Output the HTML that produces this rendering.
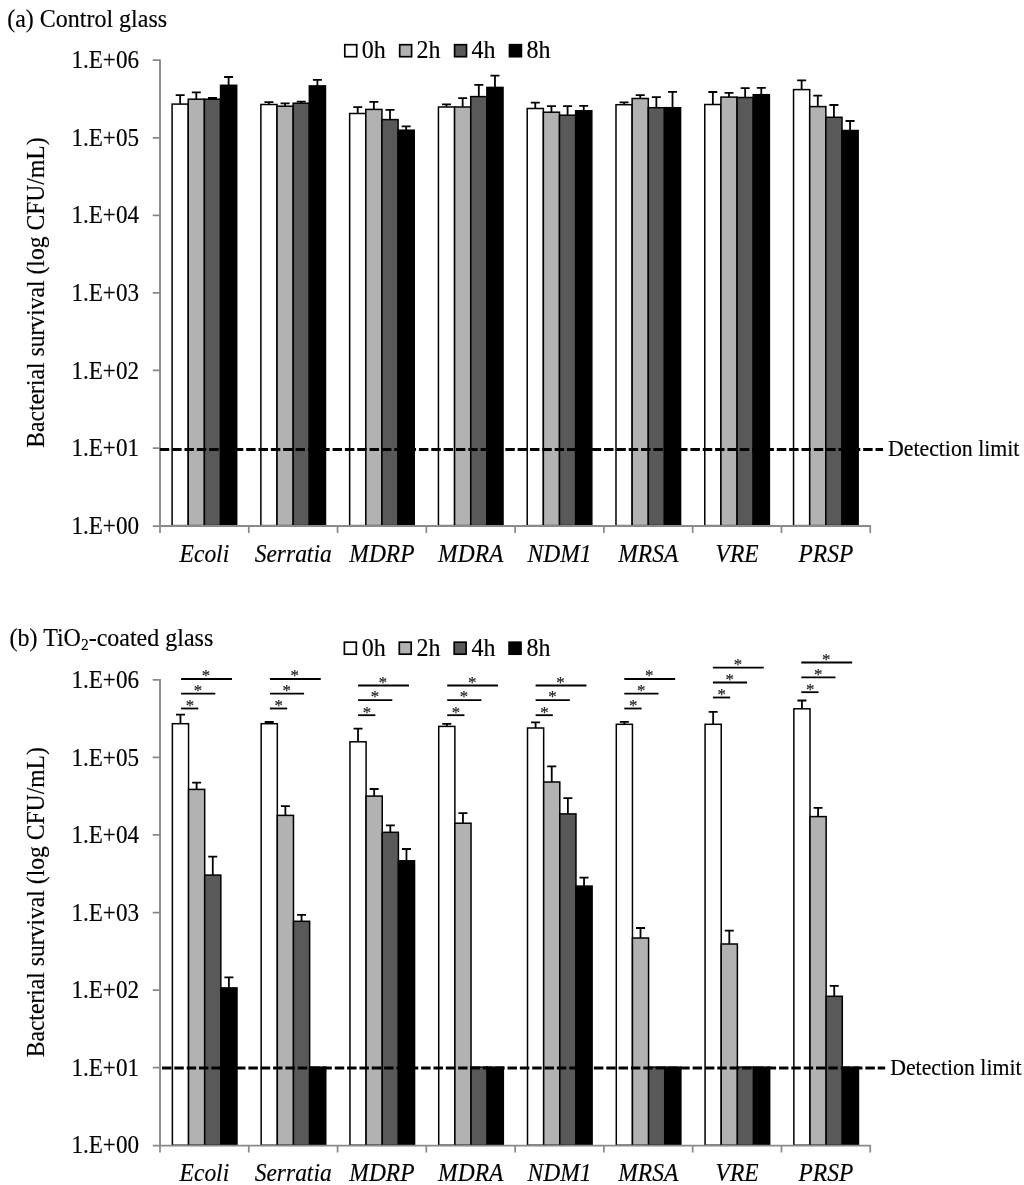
<!DOCTYPE html>
<html lang="en">
<head>
<meta charset="utf-8">
<title>Bacterial survival on control glass and TiO2-coated glass</title>
<style>
html,body{margin:0;padding:0;background:#fff;}
body{width:1024px;height:1185px;overflow:hidden;font-family:"Liberation Serif","Times New Roman",serif;}
svg{display:block;}
</style>
</head>
<body>
<svg width="1024" height="1185" viewBox="0 0 1024 1185" font-family="'Liberation Serif', 'Times New Roman', serif" fill="#000">
<style>text{stroke:#000;stroke-width:0.15px;stroke-linejoin:round}</style>
<rect width="1024" height="1185" fill="#fff"/>
<g>
<text transform="translate(7.2 26.8) scale(1 1.05)" font-size="24">(a) Control glass</text>
<rect x="172.09" y="104.1" width="16.15" height="421.52" fill="#ffffff" stroke="#000" stroke-width="1.5"/>
<path d="M180.16 104.1V95.2M175.66 95.2H184.66" stroke="#000" stroke-width="1.8" fill="none"/>
<rect x="188.24" y="99.2" width="16.15" height="426.42" fill="#b2b2b2" stroke="#000" stroke-width="1.5"/>
<path d="M196.31 99.2V92.3M191.81 92.3H200.81" stroke="#000" stroke-width="1.8" fill="none"/>
<rect x="204.39" y="99.2" width="16.15" height="426.42" fill="#595959" stroke="#000" stroke-width="1.5"/>
<path d="M212.46 99.2V98M207.96 98H216.96" stroke="#000" stroke-width="1.8" fill="none"/>
<rect x="220.54" y="85.3" width="16.15" height="440.32" fill="#000000" stroke="#000" stroke-width="1.5"/>
<path d="M228.61 85.3V77M224.11 77H233.11" stroke="#000" stroke-width="1.8" fill="none"/>
<rect x="260.87" y="104.5" width="16.15" height="421.12" fill="#ffffff" stroke="#000" stroke-width="1.5"/>
<path d="M268.94 104.5V102.2M264.44 102.2H273.44" stroke="#000" stroke-width="1.8" fill="none"/>
<rect x="277.02" y="106.2" width="16.15" height="419.42" fill="#b2b2b2" stroke="#000" stroke-width="1.5"/>
<path d="M285.09 106.2V103.4M280.59 103.4H289.59" stroke="#000" stroke-width="1.8" fill="none"/>
<rect x="293.17" y="103.2" width="16.15" height="422.42" fill="#595959" stroke="#000" stroke-width="1.5"/>
<path d="M301.25 103.2V101.7M296.75 101.7H305.75" stroke="#000" stroke-width="1.8" fill="none"/>
<rect x="309.32" y="85.9" width="16.15" height="439.72" fill="#000000" stroke="#000" stroke-width="1.5"/>
<path d="M317.39 85.9V79.9M312.89 79.9H321.89" stroke="#000" stroke-width="1.8" fill="none"/>
<rect x="349.65" y="113.5" width="16.15" height="412.12" fill="#ffffff" stroke="#000" stroke-width="1.5"/>
<path d="M357.72 113.5V107.1M353.22 107.1H362.22" stroke="#000" stroke-width="1.8" fill="none"/>
<rect x="365.8" y="109.4" width="16.15" height="416.22" fill="#b2b2b2" stroke="#000" stroke-width="1.5"/>
<path d="M373.87 109.4V101.8M369.37 101.8H378.37" stroke="#000" stroke-width="1.8" fill="none"/>
<rect x="381.95" y="119.6" width="16.15" height="406.02" fill="#595959" stroke="#000" stroke-width="1.5"/>
<path d="M390.02 119.6V109.9M385.52 109.9H394.52" stroke="#000" stroke-width="1.8" fill="none"/>
<rect x="398.1" y="130.2" width="16.15" height="395.42" fill="#000000" stroke="#000" stroke-width="1.5"/>
<path d="M406.17 130.2V126.3M401.67 126.3H410.67" stroke="#000" stroke-width="1.8" fill="none"/>
<rect x="438.43" y="107" width="16.15" height="418.62" fill="#ffffff" stroke="#000" stroke-width="1.5"/>
<path d="M446.51 107V104.3M442.01 104.3H451.01" stroke="#000" stroke-width="1.8" fill="none"/>
<rect x="454.58" y="107" width="16.15" height="418.62" fill="#b2b2b2" stroke="#000" stroke-width="1.5"/>
<path d="M462.66 107V98.1M458.16 98.1H467.16" stroke="#000" stroke-width="1.8" fill="none"/>
<rect x="470.73" y="96.6" width="16.15" height="429.02" fill="#595959" stroke="#000" stroke-width="1.5"/>
<path d="M478.81 96.6V84.8M474.31 84.8H483.31" stroke="#000" stroke-width="1.8" fill="none"/>
<rect x="486.88" y="87.4" width="16.15" height="438.22" fill="#000000" stroke="#000" stroke-width="1.5"/>
<path d="M494.96 87.4V75.6M490.46 75.6H499.46" stroke="#000" stroke-width="1.8" fill="none"/>
<rect x="527.21" y="108.5" width="16.15" height="417.12" fill="#ffffff" stroke="#000" stroke-width="1.5"/>
<path d="M535.29 108.5V102.7M530.79 102.7H539.79" stroke="#000" stroke-width="1.8" fill="none"/>
<rect x="543.36" y="112.2" width="16.15" height="413.42" fill="#b2b2b2" stroke="#000" stroke-width="1.5"/>
<path d="M551.44 112.2V106.2M546.94 106.2H555.94" stroke="#000" stroke-width="1.8" fill="none"/>
<rect x="559.51" y="115.2" width="16.15" height="410.42" fill="#595959" stroke="#000" stroke-width="1.5"/>
<path d="M567.59 115.2V106.2M563.09 106.2H572.09" stroke="#000" stroke-width="1.8" fill="none"/>
<rect x="575.66" y="110.8" width="16.15" height="414.82" fill="#000000" stroke="#000" stroke-width="1.5"/>
<path d="M583.74 110.8V105.9M579.24 105.9H588.24" stroke="#000" stroke-width="1.8" fill="none"/>
<rect x="615.99" y="104.7" width="16.15" height="420.92" fill="#ffffff" stroke="#000" stroke-width="1.5"/>
<path d="M624.07 104.7V102.4M619.57 102.4H628.57" stroke="#000" stroke-width="1.8" fill="none"/>
<rect x="632.14" y="98.5" width="16.15" height="427.12" fill="#b2b2b2" stroke="#000" stroke-width="1.5"/>
<path d="M640.22 98.5V95.2M635.72 95.2H644.72" stroke="#000" stroke-width="1.8" fill="none"/>
<rect x="648.29" y="107.7" width="16.15" height="417.92" fill="#595959" stroke="#000" stroke-width="1.5"/>
<path d="M656.37 107.7V97.1M651.87 97.1H660.87" stroke="#000" stroke-width="1.8" fill="none"/>
<rect x="664.44" y="107.7" width="16.15" height="417.92" fill="#000000" stroke="#000" stroke-width="1.5"/>
<path d="M672.52 107.7V91.8M668.02 91.8H677.02" stroke="#000" stroke-width="1.8" fill="none"/>
<rect x="704.77" y="104.5" width="16.15" height="421.12" fill="#ffffff" stroke="#000" stroke-width="1.5"/>
<path d="M712.85 104.5V92M708.35 92H717.35" stroke="#000" stroke-width="1.8" fill="none"/>
<rect x="720.92" y="97.1" width="16.15" height="428.52" fill="#b2b2b2" stroke="#000" stroke-width="1.5"/>
<path d="M729 97.1V92.9M724.5 92.9H733.5" stroke="#000" stroke-width="1.8" fill="none"/>
<rect x="737.07" y="97.5" width="16.15" height="428.12" fill="#595959" stroke="#000" stroke-width="1.5"/>
<path d="M745.15 97.5V88.1M740.65 88.1H749.65" stroke="#000" stroke-width="1.8" fill="none"/>
<rect x="753.22" y="94.7" width="16.15" height="430.92" fill="#000000" stroke="#000" stroke-width="1.5"/>
<path d="M761.3 94.7V87.9M756.8 87.9H765.8" stroke="#000" stroke-width="1.8" fill="none"/>
<rect x="793.55" y="89.6" width="16.15" height="436.02" fill="#ffffff" stroke="#000" stroke-width="1.5"/>
<path d="M801.63 89.6V80.4M797.13 80.4H806.13" stroke="#000" stroke-width="1.8" fill="none"/>
<rect x="809.7" y="106.6" width="16.15" height="419.02" fill="#b2b2b2" stroke="#000" stroke-width="1.5"/>
<path d="M817.78 106.6V95.7M813.28 95.7H822.28" stroke="#000" stroke-width="1.8" fill="none"/>
<rect x="825.85" y="117.3" width="16.15" height="408.32" fill="#595959" stroke="#000" stroke-width="1.5"/>
<path d="M833.93 117.3V105M829.43 105H838.43" stroke="#000" stroke-width="1.8" fill="none"/>
<rect x="842" y="130.5" width="16.15" height="395.12" fill="#000000" stroke="#000" stroke-width="1.5"/>
<path d="M850.08 130.5V121M845.58 121H854.58" stroke="#000" stroke-width="1.8" fill="none"/>
<path d="M160 59.4V526.02H870.8" stroke="#8a8a8a" stroke-width="1.9" fill="none"/>
<path d="M152.7 60.2H160M152.7 137.77H160M152.7 215.34H160M152.7 292.91H160M152.7 370.48H160M152.7 448.05H160M152.7 526.02H160M160 525.62V532.92M248.78 525.62V532.92M337.56 525.62V532.92M426.34 525.62V532.92M515.12 525.62V532.92M603.9 525.62V532.92M692.68 525.62V532.92M781.46 525.62V532.92M870.24 525.62V532.92" stroke="#8a8a8a" stroke-width="1.75" fill="none"/>
<path d="M159.8 449.45H883" stroke="#000" stroke-width="3.1" stroke-dasharray="9.45 2.89" fill="none"/>
<text transform="translate(888 456.05) scale(1 1.04)" font-size="21.8">Detection limit</text>
<text transform="translate(139 68.3) scale(1 1.113)" font-size="23.1" text-anchor="end">1.E+06</text>
<text transform="translate(139 145.87) scale(1 1.113)" font-size="23.1" text-anchor="end">1.E+05</text>
<text transform="translate(139 223.44) scale(1 1.113)" font-size="23.1" text-anchor="end">1.E+04</text>
<text transform="translate(139 301.01) scale(1 1.113)" font-size="23.1" text-anchor="end">1.E+03</text>
<text transform="translate(139 378.58) scale(1 1.113)" font-size="23.1" text-anchor="end">1.E+02</text>
<text transform="translate(139 456.15) scale(1 1.113)" font-size="23.1" text-anchor="end">1.E+01</text>
<text transform="translate(139 533.72) scale(1 1.113)" font-size="23.1" text-anchor="end">1.E+00</text>
<text transform="translate(204.39 561.62) scale(1 1.115)" font-size="23.5" text-anchor="middle" font-style="italic">Ecoli</text>
<text transform="translate(293.17 561.62) scale(1 1.115)" font-size="23.5" text-anchor="middle" font-style="italic">Serratia</text>
<text transform="translate(381.95 561.62) scale(1 1.115)" font-size="23.5" text-anchor="middle" font-style="italic">MDRP</text>
<text transform="translate(470.73 561.62) scale(1 1.115)" font-size="23.5" text-anchor="middle" font-style="italic">MDRA</text>
<text transform="translate(559.51 561.62) scale(1 1.115)" font-size="23.5" text-anchor="middle" font-style="italic">NDM1</text>
<text transform="translate(648.29 561.62) scale(1 1.115)" font-size="23.5" text-anchor="middle" font-style="italic">MRSA</text>
<text transform="translate(737.07 561.62) scale(1 1.115)" font-size="23.5" text-anchor="middle" font-style="italic">VRE</text>
<text transform="translate(825.85 561.62) scale(1 1.115)" font-size="23.5" text-anchor="middle" font-style="italic">PRSP</text>
<text transform="translate(43.7 292.55) rotate(-90) scale(1 1.057)" font-size="23.63" text-anchor="middle">Bacterial survival (log CFU/mL)</text>
<rect x="344.8" y="44.7" width="11.9" height="12" fill="#ffffff" stroke="#000" stroke-width="1.7"/>
<text transform="translate(361.7 58.3) scale(1 1.09)" font-size="24">0h</text>
<rect x="399.7" y="44.7" width="11.9" height="12" fill="#b2b2b2" stroke="#000" stroke-width="1.7"/>
<text transform="translate(416.6 58.3) scale(1 1.09)" font-size="24">2h</text>
<rect x="454.6" y="44.7" width="11.9" height="12" fill="#595959" stroke="#000" stroke-width="1.7"/>
<text transform="translate(471.5 58.3) scale(1 1.09)" font-size="24">4h</text>
<rect x="509.5" y="44.7" width="11.9" height="12" fill="#000000" stroke="#000" stroke-width="1.7"/>
<text transform="translate(526.4 58.3) scale(1 1.09)" font-size="24">8h</text>
</g>
<g>
<text transform="translate(9.6 646.3) scale(1 1.05)" font-size="24">(b) TiO<tspan font-size="15.5" dy="3.4">2</tspan><tspan dy="-3.4">-coated glass</tspan></text>
<rect x="172.39" y="723.7" width="16.15" height="421.57" fill="#ffffff" stroke="#000" stroke-width="1.5"/>
<path d="M180.47 723.7V714.7M175.97 714.7H184.97" stroke="#000" stroke-width="1.8" fill="none"/>
<rect x="188.54" y="789.4" width="16.15" height="355.87" fill="#b2b2b2" stroke="#000" stroke-width="1.5"/>
<path d="M196.62 789.4V782.6M192.12 782.6H201.12" stroke="#000" stroke-width="1.8" fill="none"/>
<rect x="204.69" y="875.1" width="16.15" height="270.17" fill="#595959" stroke="#000" stroke-width="1.5"/>
<path d="M212.76 875.1V856.7M208.26 856.7H217.26" stroke="#000" stroke-width="1.8" fill="none"/>
<rect x="220.84" y="987.9" width="16.15" height="157.37" fill="#000000" stroke="#000" stroke-width="1.5"/>
<path d="M228.91 987.9V977.4M224.41 977.4H233.41" stroke="#000" stroke-width="1.8" fill="none"/>
<rect x="261.17" y="723.7" width="16.15" height="421.57" fill="#ffffff" stroke="#000" stroke-width="1.5"/>
<path d="M269.25 723.7V722M264.75 722H273.75" stroke="#000" stroke-width="1.8" fill="none"/>
<rect x="277.32" y="815.4" width="16.15" height="329.87" fill="#b2b2b2" stroke="#000" stroke-width="1.5"/>
<path d="M285.39 815.4V806.1M280.89 806.1H289.89" stroke="#000" stroke-width="1.8" fill="none"/>
<rect x="293.47" y="921.3" width="16.15" height="223.97" fill="#595959" stroke="#000" stroke-width="1.5"/>
<path d="M301.55 921.3V914.8M297.05 914.8H306.05" stroke="#000" stroke-width="1.8" fill="none"/>
<rect x="309.62" y="1067.15" width="16.15" height="78.12" fill="#000000" stroke="#000" stroke-width="1.5"/>
<rect x="349.95" y="741.8" width="16.15" height="403.47" fill="#ffffff" stroke="#000" stroke-width="1.5"/>
<path d="M358.02 741.8V728.7M353.52 728.7H362.52" stroke="#000" stroke-width="1.8" fill="none"/>
<rect x="366.1" y="796.1" width="16.15" height="349.17" fill="#b2b2b2" stroke="#000" stroke-width="1.5"/>
<path d="M374.17 796.1V789M369.67 789H378.67" stroke="#000" stroke-width="1.8" fill="none"/>
<rect x="382.25" y="832.3" width="16.15" height="312.97" fill="#595959" stroke="#000" stroke-width="1.5"/>
<path d="M390.32 832.3V825.3M385.82 825.3H394.82" stroke="#000" stroke-width="1.8" fill="none"/>
<rect x="398.4" y="860.8" width="16.15" height="284.47" fill="#000000" stroke="#000" stroke-width="1.5"/>
<path d="M406.47 860.8V849M401.97 849H410.97" stroke="#000" stroke-width="1.8" fill="none"/>
<rect x="438.73" y="726.4" width="16.15" height="418.87" fill="#ffffff" stroke="#000" stroke-width="1.5"/>
<path d="M446.81 726.4V723.9M442.31 723.9H451.31" stroke="#000" stroke-width="1.8" fill="none"/>
<rect x="454.88" y="823.2" width="16.15" height="322.07" fill="#b2b2b2" stroke="#000" stroke-width="1.5"/>
<path d="M462.96 823.2V813.2M458.46 813.2H467.46" stroke="#000" stroke-width="1.8" fill="none"/>
<rect x="471.03" y="1067.15" width="16.15" height="78.12" fill="#595959" stroke="#000" stroke-width="1.5"/>
<rect x="487.18" y="1067.15" width="16.15" height="78.12" fill="#000000" stroke="#000" stroke-width="1.5"/>
<rect x="527.51" y="728" width="16.15" height="417.27" fill="#ffffff" stroke="#000" stroke-width="1.5"/>
<path d="M535.59 728V722.3M531.09 722.3H540.09" stroke="#000" stroke-width="1.8" fill="none"/>
<rect x="543.66" y="782" width="16.15" height="363.27" fill="#b2b2b2" stroke="#000" stroke-width="1.5"/>
<path d="M551.74 782V766.3M547.24 766.3H556.24" stroke="#000" stroke-width="1.8" fill="none"/>
<rect x="559.81" y="813.9" width="16.15" height="331.37" fill="#595959" stroke="#000" stroke-width="1.5"/>
<path d="M567.88 813.9V798.2M563.38 798.2H572.38" stroke="#000" stroke-width="1.8" fill="none"/>
<rect x="575.96" y="886.1" width="16.15" height="259.17" fill="#000000" stroke="#000" stroke-width="1.5"/>
<path d="M584.04 886.1V877.7M579.54 877.7H588.54" stroke="#000" stroke-width="1.8" fill="none"/>
<rect x="616.29" y="724.3" width="16.15" height="420.97" fill="#ffffff" stroke="#000" stroke-width="1.5"/>
<path d="M624.37 724.3V721.8M619.87 721.8H628.87" stroke="#000" stroke-width="1.8" fill="none"/>
<rect x="632.44" y="938" width="16.15" height="207.27" fill="#b2b2b2" stroke="#000" stroke-width="1.5"/>
<path d="M640.51 938V928M636.01 928H645.01" stroke="#000" stroke-width="1.8" fill="none"/>
<rect x="648.59" y="1067.15" width="16.15" height="78.12" fill="#595959" stroke="#000" stroke-width="1.5"/>
<rect x="664.74" y="1067.15" width="16.15" height="78.12" fill="#000000" stroke="#000" stroke-width="1.5"/>
<rect x="705.07" y="724.3" width="16.15" height="420.97" fill="#ffffff" stroke="#000" stroke-width="1.5"/>
<path d="M713.15 724.3V711.8M708.65 711.8H717.65" stroke="#000" stroke-width="1.8" fill="none"/>
<rect x="721.22" y="944" width="16.15" height="201.27" fill="#b2b2b2" stroke="#000" stroke-width="1.5"/>
<path d="M729.3 944V930.7M724.8 930.7H733.8" stroke="#000" stroke-width="1.8" fill="none"/>
<rect x="737.37" y="1067.15" width="16.15" height="78.12" fill="#595959" stroke="#000" stroke-width="1.5"/>
<rect x="753.52" y="1067.15" width="16.15" height="78.12" fill="#000000" stroke="#000" stroke-width="1.5"/>
<rect x="793.85" y="708.8" width="16.15" height="436.47" fill="#ffffff" stroke="#000" stroke-width="1.5"/>
<path d="M801.93 708.8V700.5M797.43 700.5H806.43" stroke="#000" stroke-width="1.8" fill="none"/>
<rect x="810" y="816.6" width="16.15" height="328.67" fill="#b2b2b2" stroke="#000" stroke-width="1.5"/>
<path d="M818.08 816.6V807.8M813.58 807.8H822.58" stroke="#000" stroke-width="1.8" fill="none"/>
<rect x="826.15" y="996.3" width="16.15" height="148.97" fill="#595959" stroke="#000" stroke-width="1.5"/>
<path d="M834.23 996.3V985.9M829.73 985.9H838.73" stroke="#000" stroke-width="1.8" fill="none"/>
<rect x="842.3" y="1067.15" width="16.15" height="78.12" fill="#000000" stroke="#000" stroke-width="1.5"/>
<path d="M160 679.05V1145.67H870.8" stroke="#8a8a8a" stroke-width="1.9" fill="none"/>
<path d="M152.7 679.85H160M152.7 757.42H160M152.7 834.99H160M152.7 912.56H160M152.7 990.13H160M152.7 1067.7H160M152.7 1145.67H160M160 1145.27V1152.57M248.78 1145.27V1152.57M337.56 1145.27V1152.57M426.34 1145.27V1152.57M515.12 1145.27V1152.57M603.9 1145.27V1152.57M692.68 1145.27V1152.57M781.46 1145.27V1152.57M870.24 1145.27V1152.57" stroke="#8a8a8a" stroke-width="1.75" fill="none"/>
<path d="M162 1068H885.2" stroke="#000" stroke-width="3.1" stroke-dasharray="9.45 2.89" fill="none"/>
<text transform="translate(890.2 1074.6) scale(1 1.04)" font-size="21.8">Detection limit</text>
<text transform="translate(139 687.95) scale(1 1.113)" font-size="23.1" text-anchor="end">1.E+06</text>
<text transform="translate(139 765.52) scale(1 1.113)" font-size="23.1" text-anchor="end">1.E+05</text>
<text transform="translate(139 843.09) scale(1 1.113)" font-size="23.1" text-anchor="end">1.E+04</text>
<text transform="translate(139 920.66) scale(1 1.113)" font-size="23.1" text-anchor="end">1.E+03</text>
<text transform="translate(139 998.23) scale(1 1.113)" font-size="23.1" text-anchor="end">1.E+02</text>
<text transform="translate(139 1075.8) scale(1 1.113)" font-size="23.1" text-anchor="end">1.E+01</text>
<text transform="translate(139 1153.37) scale(1 1.113)" font-size="23.1" text-anchor="end">1.E+00</text>
<text transform="translate(204.39 1180.77) scale(1 1.115)" font-size="23.5" text-anchor="middle" font-style="italic">Ecoli</text>
<text transform="translate(293.17 1180.77) scale(1 1.115)" font-size="23.5" text-anchor="middle" font-style="italic">Serratia</text>
<text transform="translate(381.95 1180.77) scale(1 1.115)" font-size="23.5" text-anchor="middle" font-style="italic">MDRP</text>
<text transform="translate(470.73 1180.77) scale(1 1.115)" font-size="23.5" text-anchor="middle" font-style="italic">MDRA</text>
<text transform="translate(559.51 1180.77) scale(1 1.115)" font-size="23.5" text-anchor="middle" font-style="italic">NDM1</text>
<text transform="translate(648.29 1180.77) scale(1 1.115)" font-size="23.5" text-anchor="middle" font-style="italic">MRSA</text>
<text transform="translate(737.07 1180.77) scale(1 1.115)" font-size="23.5" text-anchor="middle" font-style="italic">VRE</text>
<text transform="translate(825.85 1180.77) scale(1 1.115)" font-size="23.5" text-anchor="middle" font-style="italic">PRSP</text>
<text transform="translate(43.7 902.25) rotate(-90) scale(1 1.057)" font-size="23.63" text-anchor="middle">Bacterial survival (log CFU/mL)</text>
<rect x="344.4" y="642.2" width="11.9" height="12" fill="#ffffff" stroke="#000" stroke-width="1.7"/>
<text transform="translate(361.7 655.7) scale(1 1.09)" font-size="24">0h</text>
<rect x="399.3" y="642.2" width="11.9" height="12" fill="#b2b2b2" stroke="#000" stroke-width="1.7"/>
<text transform="translate(416.6 655.7) scale(1 1.09)" font-size="24">2h</text>
<rect x="454.2" y="642.2" width="11.9" height="12" fill="#595959" stroke="#000" stroke-width="1.7"/>
<text transform="translate(471.5 655.7) scale(1 1.09)" font-size="24">4h</text>
<rect x="509.1" y="642.2" width="11.9" height="12" fill="#000000" stroke="#000" stroke-width="1.7"/>
<text transform="translate(526.4 655.7) scale(1 1.09)" font-size="24">8h</text>
<path d="M181.1 679H231.95" stroke="#000" stroke-width="1.8"/>
<text x="206.02" y="681.3" font-size="16.8" text-anchor="middle" fill="#222" stroke="#222" stroke-width="0.25">*</text>
<path d="M181.1 693.6H215.3" stroke="#000" stroke-width="1.8"/>
<text x="197.95" y="695.9" font-size="16.8" text-anchor="middle" fill="#222" stroke="#222" stroke-width="0.25">*</text>
<path d="M181.1 708.5H198.35" stroke="#000" stroke-width="1.8"/>
<text x="189.87" y="710.8" font-size="16.8" text-anchor="middle" fill="#222" stroke="#222" stroke-width="0.25">*</text>
<path d="M269.9 679H320.75" stroke="#000" stroke-width="1.8"/>
<text x="294.82" y="681.3" font-size="16.8" text-anchor="middle" fill="#222" stroke="#222" stroke-width="0.25">*</text>
<path d="M269.9 693.6H304.1" stroke="#000" stroke-width="1.8"/>
<text x="286.75" y="695.9" font-size="16.8" text-anchor="middle" fill="#222" stroke="#222" stroke-width="0.25">*</text>
<path d="M269.9 708.5H287.15" stroke="#000" stroke-width="1.8"/>
<text x="278.67" y="710.8" font-size="16.8" text-anchor="middle" fill="#222" stroke="#222" stroke-width="0.25">*</text>
<path d="M358.1 685.5H408.95" stroke="#000" stroke-width="1.8"/>
<text x="383.03" y="687.8" font-size="16.8" text-anchor="middle" fill="#222" stroke="#222" stroke-width="0.25">*</text>
<path d="M358.1 700.1H392.3" stroke="#000" stroke-width="1.8"/>
<text x="374.95" y="702.4" font-size="16.8" text-anchor="middle" fill="#222" stroke="#222" stroke-width="0.25">*</text>
<path d="M358.1 715.2H375.35" stroke="#000" stroke-width="1.8"/>
<text x="366.88" y="717.5" font-size="16.8" text-anchor="middle" fill="#222" stroke="#222" stroke-width="0.25">*</text>
<path d="M447.2 685.5H498.05" stroke="#000" stroke-width="1.8"/>
<text x="472.12" y="687.8" font-size="16.8" text-anchor="middle" fill="#222" stroke="#222" stroke-width="0.25">*</text>
<path d="M447.2 700.1H481.4" stroke="#000" stroke-width="1.8"/>
<text x="464.05" y="702.4" font-size="16.8" text-anchor="middle" fill="#222" stroke="#222" stroke-width="0.25">*</text>
<path d="M447.2 715.2H464.45" stroke="#000" stroke-width="1.8"/>
<text x="455.97" y="717.5" font-size="16.8" text-anchor="middle" fill="#222" stroke="#222" stroke-width="0.25">*</text>
<path d="M535.6 685.5H586.45" stroke="#000" stroke-width="1.8"/>
<text x="560.53" y="687.8" font-size="16.8" text-anchor="middle" fill="#222" stroke="#222" stroke-width="0.25">*</text>
<path d="M535.6 700.1H569.8" stroke="#000" stroke-width="1.8"/>
<text x="552.45" y="702.4" font-size="16.8" text-anchor="middle" fill="#222" stroke="#222" stroke-width="0.25">*</text>
<path d="M535.6 715.2H552.85" stroke="#000" stroke-width="1.8"/>
<text x="544.38" y="717.5" font-size="16.8" text-anchor="middle" fill="#222" stroke="#222" stroke-width="0.25">*</text>
<path d="M624.3 679H675.15" stroke="#000" stroke-width="1.8"/>
<text x="649.23" y="681.3" font-size="16.8" text-anchor="middle" fill="#222" stroke="#222" stroke-width="0.25">*</text>
<path d="M624.3 693.6H658.5" stroke="#000" stroke-width="1.8"/>
<text x="641.15" y="695.9" font-size="16.8" text-anchor="middle" fill="#222" stroke="#222" stroke-width="0.25">*</text>
<path d="M624.3 708.5H641.55" stroke="#000" stroke-width="1.8"/>
<text x="633.08" y="710.8" font-size="16.8" text-anchor="middle" fill="#222" stroke="#222" stroke-width="0.25">*</text>
<path d="M712.9 667.6H763.75" stroke="#000" stroke-width="1.8"/>
<text x="737.83" y="669.9" font-size="16.8" text-anchor="middle" fill="#222" stroke="#222" stroke-width="0.25">*</text>
<path d="M712.9 682.5H747.1" stroke="#000" stroke-width="1.8"/>
<text x="729.75" y="684.8" font-size="16.8" text-anchor="middle" fill="#222" stroke="#222" stroke-width="0.25">*</text>
<path d="M712.9 697.5H730.15" stroke="#000" stroke-width="1.8"/>
<text x="721.68" y="699.8" font-size="16.8" text-anchor="middle" fill="#222" stroke="#222" stroke-width="0.25">*</text>
<path d="M801.3 662.5H852.15" stroke="#000" stroke-width="1.8"/>
<text x="826.23" y="664.8" font-size="16.8" text-anchor="middle" fill="#222" stroke="#222" stroke-width="0.25">*</text>
<path d="M801.3 677.3H835.5" stroke="#000" stroke-width="1.8"/>
<text x="818.15" y="679.6" font-size="16.8" text-anchor="middle" fill="#222" stroke="#222" stroke-width="0.25">*</text>
<path d="M801.3 692.2H818.55" stroke="#000" stroke-width="1.8"/>
<text x="810.08" y="694.5" font-size="16.8" text-anchor="middle" fill="#222" stroke="#222" stroke-width="0.25">*</text>
</g>
</svg>
</body>
</html>
